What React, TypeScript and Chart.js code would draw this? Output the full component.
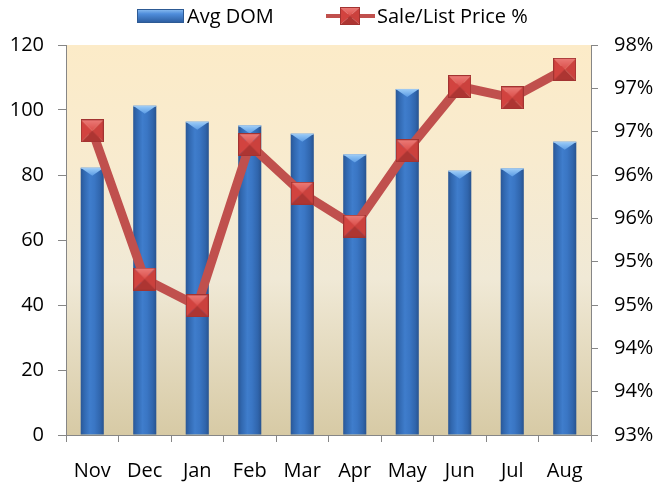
import React, { useEffect, useRef } from "react";
import { Chart, registerables } from "chart.js";

Chart.register(...registerables);

const categories = ["Nov", "Dec", "Jan", "Feb", "Mar", "Apr", "May", "Jun", "Jul", "Aug"];
const avgDom = [82.2, 101.3, 96.4, 95.2, 92.7, 86.3, 106.5, 81.3, 82.0, 90.2];
const saleListPct = [96.51, 94.8, 94.49, 96.35, 95.79, 95.41, 96.28, 97.02, 96.89, 97.22];
const leftTickValues = [0, 20, 40, 60, 80, 100, 120];
const rightTickLabels = ["93%", "94%", "94%", "95%", "95%", "96%", "96%", "97%", "97%", "98%"];
const seriesNames = ["Avg DOM", "Sale/List Price %"];

const FONT = '"Open Sans", "Noto Sans", sans-serif';
const BAR_PCT = 0.44;

function makeMarker(w: number, h: number): HTMLCanvasElement {
  const c = document.createElement("canvas");
  c.width = w;
  c.height = h;
  const g = c.getContext("2d")!;
  const mx = w / 2;
  const my = h / 2;
  const tri = (pts: number[][], fill: string | CanvasGradient) => {
    g.beginPath();
    g.moveTo(pts[0][0], pts[0][1]);
    g.lineTo(pts[1][0], pts[1][1]);
    g.lineTo(pts[2][0], pts[2][1]);
    g.closePath();
    g.fillStyle = fill;
    g.fill();
  };
  const top = g.createLinearGradient(0, 0, 0, my);
  top.addColorStop(0, "#ec7d79");
  top.addColorStop(1, "#dc4f4b");
  tri([[0, 0], [w, 0], [mx, my]], top);
  tri([[0, 0], [0, h], [mx, my]], "#d2433f");
  tri([[w, 0], [w, h], [mx, my]], "#cb413d");
  tri([[0, h], [w, h], [mx, my]], "#ad3532");
  g.strokeStyle = "#a23331";
  g.lineWidth = 1;
  g.strokeRect(0.5, 0.5, w - 1, h - 1);
  return c;
}

const plotBgPlugin = {
  id: "plotBg",
  beforeDraw(chart: any) {
    const { ctx, chartArea: a } = chart;
    if (!a) return;
    const g = ctx.createLinearGradient(0, a.top, 0, a.bottom);
    g.addColorStop(0, "#fcebc8");
    g.addColorStop(0.3, "#f8ebcf");
    g.addColorStop(0.6, "#f0e9d6");
    g.addColorStop(1, "#d7caa5");
    ctx.save();
    ctx.fillStyle = g;
    ctx.fillRect(a.left, a.top, a.right - a.left, a.bottom - a.top);
    ctx.restore();
  },
};

const barCapPlugin = {
  id: "barCap",
  afterDatasetDraw(chart: any, args: any) {
    if (args.index !== 0) return;
    const ctx = chart.ctx;
    ctx.save();
    args.meta.data.forEach((el: any) => {
      const { x, y, width } = el.getProps(["x", "y", "width"], true);
      const l = x - width / 2;
      const r = x + width / 2;
      const g = ctx.createLinearGradient(0, y, 0, y + 8);
      g.addColorStop(0, "#9ccdf8");
      g.addColorStop(1, "#5b9be4");
      ctx.beginPath();
      ctx.moveTo(l, y);
      ctx.lineTo(r, y);
      ctx.lineTo(x, y + 8);
      ctx.closePath();
      ctx.fillStyle = g;
      ctx.fill();
      ctx.strokeStyle = "rgba(160,200,240,0.8)";
      ctx.lineWidth = 1;
      ctx.beginPath();
      ctx.moveTo(l, y + 0.5);
      ctx.lineTo(r, y + 0.5);
      ctx.stroke();
    });
    ctx.restore();
  },
};

function makeLegendPlugin(marker: HTMLCanvasElement) {
  return {
    id: "customLegend",
    afterDraw(chart: any) {
      const ctx = chart.ctx;
      ctx.save();
      const g = ctx.createLinearGradient(0, 9, 0, 23);
      g.addColorStop(0, "#8fc0f2");
      g.addColorStop(0.35, "#4f8ddb");
      g.addColorStop(1, "#2a5a9c");
      ctx.fillStyle = g;
      ctx.fillRect(137, 9, 47, 14);
      ctx.strokeStyle = "#2d5a94";
      ctx.lineWidth = 1;
      ctx.strokeRect(137.5, 9.5, 46, 13);
      ctx.font = "20px " + FONT;
      ctx.fillStyle = "#000";
      ctx.textBaseline = "middle";
      ctx.textAlign = "left";
      ctx.fillText(seriesNames[0], 187, 17);
      ctx.strokeStyle = "#c0504d";
      ctx.lineWidth = 4;
      ctx.beginPath();
      ctx.moveTo(326, 16);
      ctx.lineTo(375, 16);
      ctx.stroke();
      ctx.drawImage(marker, 340, 7);
      ctx.fillText(seriesNames[1], 377, 17);
      ctx.restore();
    },
  };
}

export default function App() {
  const ref = useRef<HTMLCanvasElement | null>(null);

  useEffect(() => {
    const canvas = ref.current;
    if (!canvas) return;
    const marker = makeMarker(23, 23);
    const legendMarker = makeMarker(20, 18);

    const chart = new Chart(canvas, {
      type: "bar",
      data: {
        labels: categories,
        datasets: [
          {
            type: "bar",
            label: seriesNames[0],
            data: avgDom,
            yAxisID: "y",
            order: 1,
            barPercentage: BAR_PCT,
            categoryPercentage: 1,
            borderWidth: 0,
            backgroundColor: (c: any) => {
              const ch = c.chart;
              const xs = ch.scales && ch.scales.x;
              if (!xs || c.dataIndex === undefined || !xs.width) return "#3a76c5";
              const cx = xs.getPixelForValue(c.dataIndex);
              const w = (xs.width / categories.length) * BAR_PCT;
              const g = ch.ctx.createLinearGradient(cx - w / 2, 0, cx + w / 2, 0);
              g.addColorStop(0, "#2a5796");
              g.addColorStop(0.15, "#3168b0");
              g.addColorStop(0.4, "#3f7dcc");
              g.addColorStop(0.6, "#3a76c4");
              g.addColorStop(0.85, "#3065ac");
              g.addColorStop(1, "#28538f");
              return g;
            },
          } as any,
          {
            type: "line",
            label: seriesNames[1],
            data: saleListPct,
            yAxisID: "y1",
            order: 0,
            borderColor: "#c0504d",
            borderWidth: 9,
            tension: 0,
            pointStyle: marker as any,
            pointRadius: 12,
            pointHoverRadius: 12,
            fill: false,
          } as any,
        ],
      },
      options: {
        responsive: false,
        animation: false,
        layout: { padding: { top: 45, left: 0, right: 0, bottom: 0 } },
        plugins: {
          legend: { display: false },
          tooltip: { enabled: false },
        },
        scales: {
          x: {
            offset: true,
            grid: {
              display: true,
              drawOnChartArea: false,
              drawTicks: true,
              tickLength: 7,
              color: "#868686",
              offset: true,
            },
            border: { display: true, color: "#868686" },
            ticks: {
              color: "#000",
              font: { family: FONT, size: 20 },
              padding: 17,
              maxRotation: 0,
            },
            afterFit: (s: any) => {
              s.height = 54;
            },
          },
          y: {
            position: "left",
            min: leftTickValues[0],
            max: leftTickValues[leftTickValues.length - 1],
            afterBuildTicks: (s: any) => {
              s.ticks = leftTickValues.map((v) => ({ value: v }));
            },
            grid: {
              display: true,
              drawOnChartArea: false,
              drawTicks: true,
              tickLength: 8,
              color: "#868686",
            },
            border: { display: true, color: "#868686" },
            ticks: {
              color: "#000",
              font: { family: FONT, size: 20 },
              padding: 14,
            },
            afterFit: (s: any) => {
              s.width = 66;
            },
          },
          y1: {
            position: "right",
            min: 93,
            max: 97.5,
            ticks: {
              stepSize: 0.5,
              color: "#000",
              font: { family: FONT, size: 20 },
              padding: 16,
              callback: (_v: any, i: number) => rightTickLabels[i],
            },
            grid: {
              display: true,
              drawOnChartArea: false,
              drawTicks: true,
              tickLength: 7,
              color: "#868686",
            },
            border: { display: true, color: "#868686" },
            afterFit: (s: any) => {
              s.width = 65;
            },
          },
        },
      },
      plugins: [plotBgPlugin, barCapPlugin, makeLegendPlugin(legendMarker)],
    });

    return () => {
      chart.destroy();
    };
  }, []);

  return (
    <div style={{ position: "absolute", left: 0, top: 0, width: 656, height: 489, background: "#fff" }}>
      <canvas ref={ref} width={656} height={489} style={{ display: "block" }} />
    </div>
  );
}
